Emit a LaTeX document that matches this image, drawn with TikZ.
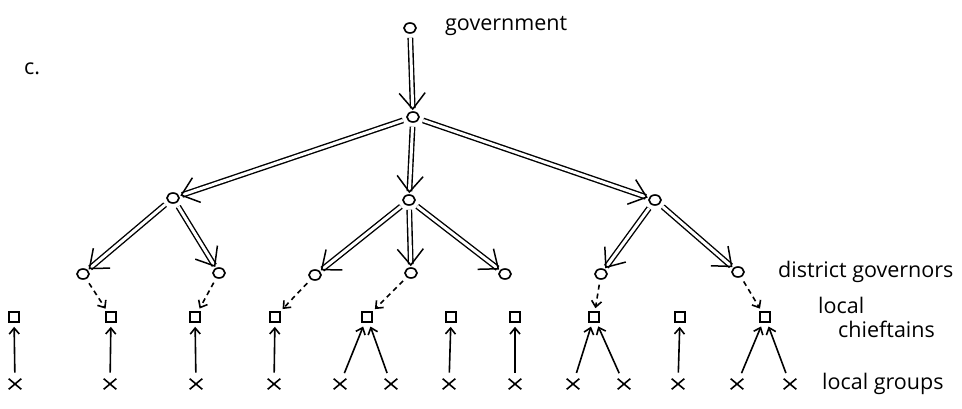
\documentclass[tikz,border=0pt]{standalone}
\usepackage{fontspec}
\setmainfont{Open Sans}
\usetikzlibrary{arrows.meta,shapes.geometric,shapes.misc}
\begin{document}
\begin{tikzpicture}[x=1pt,y=-1pt,
 gnode/.style={draw,ellipse,minimum width=12pt,minimum height=10pt,inner sep=0pt,line width=1.6pt},
 chief/.style={draw,rectangle,minimum size=10pt,inner sep=0pt,line width=1.6pt},
 grp/.style={draw,cross out,minimum width=11pt,minimum height=9pt,inner sep=0pt,line width=1.6pt},
 dbl/.style={double,double distance=3pt,line width=1.4pt,-{Straight Barb[length=16pt,width=26pt,line width=1.5pt]},shorten <=4pt,shorten >=1pt},
 dsh/.style={dashed,dash pattern=on 5pt off 4pt,line width=1.6pt,-{Straight Barb[length=6pt,width=10pt]},shorten <=5pt,shorten >=3pt},
 up/.style={line width=1.6pt,-{Straight Barb[length=6pt,width=10pt]},shorten <=6pt,shorten >=4pt},
 lbl/.style={font=\fontsize{21.5}{24}\selectfont,anchor=base west,inner sep=0pt}
]
\useasboundingbox (0,0) rectangle (962,409);
% nodes
\node[gnode] (top) at (410,28) {};
\node[gnode] (c) at (413,117) {};
\node[gnode] (m1) at (173,198) {};
\node[gnode] (m2) at (409,200) {};
\node[gnode] (m3) at (655,200) {};
\node[gnode] (g1) at (83,274) {};
\node[gnode] (g2) at (219,273) {};
\node[gnode] (g3) at (315,275) {};
\node[gnode] (g4) at (411,273) {};
\node[gnode] (g5) at (505,274) {};
\node[gnode] (g6) at (601,274) {};
\node[gnode] (g7) at (738,272) {};
\foreach \n/\x in {s1/14,s2/111,s3/195,s4/275,s5/367,s6/451,s7/515,s8/594,s9/680,s10/765}
  \node[chief] (\n) at (\x,317) {};
\foreach \n/\x in {x1/15,x2/110,x3/196,x4/274,x5/340,x6/391,x7/449,x8/515,x9/573,x10/624,x11/678,x12/737,x13/790}
  \node[grp] (\n) at (\x,384) {};
% labels
\node[lbl] (t0) at (445,31) {government};
\node[lbl] (tc) at (24,75) {c.};
\node[lbl] (t1) at (778,277) {district governors};
\node[lbl] (t2) at (818,313) {local};
\node[lbl] (t3) at (838,337) {chieftains};
\node[lbl] (t4) at (822,389) {local groups};
% double arrows
\draw[dbl] (top) -- (c);
\draw[dbl] (c) -- (m1);
\draw[dbl] (c) -- (m2);
\draw[dbl] (c) -- (m3);
\draw[dbl] (m1) -- (g1);
\draw[dbl] (m1) -- (g2);
\draw[dbl] (m2) -- (g3);
\draw[dbl] (m2) -- (g4);
\draw[dbl] (m2) -- (g5);
\draw[dbl] (m3) -- (g6);
\draw[dbl] (m3) -- (g7);
% dashed
\draw[dsh] (g1) -- (s2);
\draw[dsh] (g2) -- (s3);
\draw[dsh] (g3) -- (s4);
\draw[dsh] (g4) -- (s5);
\draw[dsh] (g6) -- (s8);
\draw[dsh] (g7) -- (s10);
% up arrows
\draw[up] (x1) -- (s1);
\draw[up] (x2) -- (s2);
\draw[up] (x3) -- (s3);
\draw[up] (x4) -- (s4);
\draw[up] (x5) -- (s5);
\draw[up] (x6) -- (s5);
\draw[up] (x7) -- (s6);
\draw[up] (x8) -- (s7);
\draw[up] (x9) -- (s8);
\draw[up] (x10) -- (s8);
\draw[up] (x11) -- (s9);
\draw[up] (x12) -- (s10);
\draw[up] (x13) -- (s10);
\end{tikzpicture}
\end{document}
